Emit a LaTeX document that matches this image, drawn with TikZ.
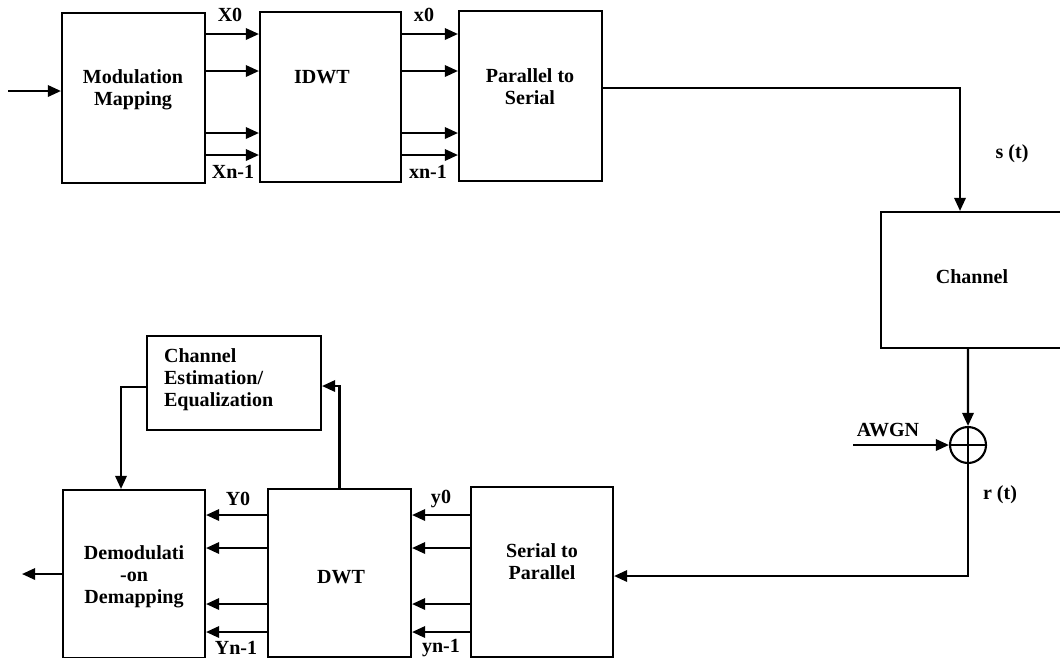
\documentclass[tikz,border=0pt]{standalone}
\usepackage{fontspec}
\setmainfont{Liberation Serif}
\usetikzlibrary{arrows.meta,positioning,calc}

\begin{document}
\begin{tikzpicture}[x=0.02cm, y=-0.02cm,
  blk/.style={rectangle, draw, line width=1.2pt, inner sep=0pt},
  txt/.style={align=center, font=\fontsize{11.4}{12.5}\selectfont\bfseries, inner sep=1pt},
  lbl/.style={font=\fontsize{11.4}{12.5}\selectfont\bfseries, inner sep=1pt},
  arr/.style={-{Triangle[length=7.5pt,width=6.5pt]}, line width=1.3pt},
  sumnode/.style={circle, draw, line width=1.2pt, minimum size=0.72cm, inner sep=0pt,
    path picture={\draw[line width=1.2pt]
      (path picture bounding box.north) -- (path picture bounding box.south)
      (path picture bounding box.west) -- (path picture bounding box.east);}}
]
  \useasboundingbox (0,0) rectangle (1060,657);

  \node[blk, minimum width=2.86cm, minimum height=3.4cm] (mm) at (133.5,98) {};
  \node[txt] (mmtext) at (133,90) {Modulation\\Mapping};

  \node[blk, minimum width=2.82cm, minimum height=3.4cm] (idwt) at (330.5,97) {};
  \node[txt] (idwttext) at (322,77) {IDWT};

  \node[blk, minimum width=2.86cm, minimum height=3.4cm] (p2s) at (530.5,96) {};
  \node[txt] (p2stext) at (530,87) {Parallel to\\Serial};

  \node[blk, minimum width=3.64cm, minimum height=2.72cm] (chan) at (972,280) {};
  \node[txt] (chantext) at (972,277) {Channel};

  \node[sumnode] (sum) at (968,445) {};

  \node[blk, minimum width=3.48cm, minimum height=1.88cm] (ce) at (234,383) {};
  \node[txt, align=left, anchor=west] (cetext) at (162,380) {Channel\\Estimation/\\Equalization};

  \node[blk, minimum width=2.84cm, minimum height=3.36cm] (demod) at (134,574) {};
  \node[txt] (demodtext) at (134,577) {Demodulati\\-on\\Demapping};

  \node[blk, minimum width=2.86cm, minimum height=3.36cm] (dwt) at (339.5,573) {};
  \node[txt] (dwttext) at (341,577) {DWT};

  \node[blk, minimum width=2.84cm, minimum height=3.4cm] (s2p) at (542,572) {};
  \node[txt] (s2ptext) at (542,562) {Serial to\\Parallel};

  \node[lbl] (lX0) at (230,15) {X0};
  \node[lbl] (lXn) at (233,172) {Xn-1};
  \node[lbl] (lx0) at (424,15) {x0};
  \node[lbl] (lxn) at (428,172) {xn-1};
  \node[lbl] (lst) at (1012,154) {s (t)};
  \node[lbl] (lawgn) at (888,430) {AWGN};
  \node[lbl] (lrt) at (1000,495) {r (t)};
  \node[lbl] (lY0) at (238,499) {Y0};
  \node[lbl] (lYn) at (236,648) {Yn-1};
  \node[lbl] (ly0) at (441,499) {y0};
  \node[lbl] (lyn) at (441,648) {yn-1};

  \coordinate (src) at (8,91);
  \coordinate (noise) at (853,445);
  \coordinate (sink) at (22,574);

  \draw[arr] (src) -- (src -| mm.west);
  \foreach \yy in {34,71,133,155} {
    \draw[arr] (mm.east |- 0,\yy) -- (idwt.west |- 0,\yy);
    \draw[arr] (idwt.east |- 0,\yy) -- (p2s.west |- 0,\yy);
  }
  \draw[arr] (p2s.east |- 0,88) -| ([xshift=-0.24cm]chan.north);
  \draw[arr] ([xshift=-0.08cm]chan.south) -- (sum.north);
  \draw[arr] (noise) -- (sum.west);
  \draw[arr] (sum.south) |- (s2p.east |- 0,576);
  \foreach \yy in {515,548,604,632} {
    \draw[arr] (s2p.west |- 0,\yy) -- (dwt.east |- 0,\yy);
    \draw[arr] (dwt.west |- 0,\yy) -- (demod.east |- 0,\yy);
  }
  \draw[arr] (dwt.north) |- (ce.east |- 0,386);
  \draw[arr] (ce.west |- 0,387) -| ([xshift=-0.26cm]demod.north);
  \draw[arr] (demod.west |- sink) -- (sink);
\end{tikzpicture}
\end{document}
